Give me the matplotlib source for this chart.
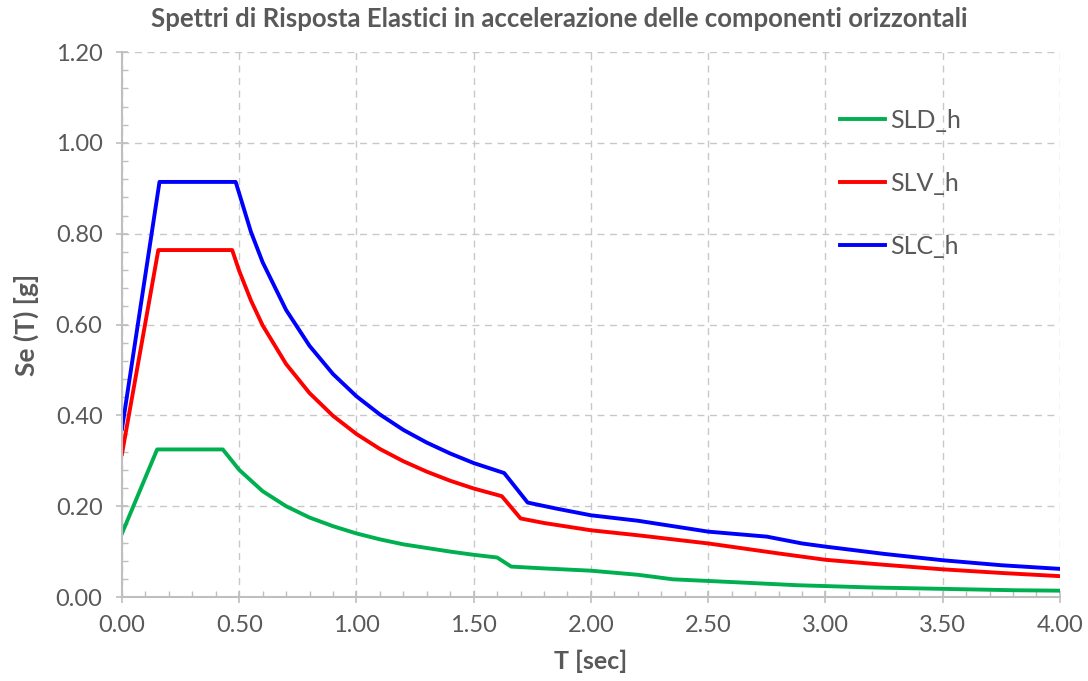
import matplotlib
matplotlib.use("Agg")
import matplotlib.pyplot as plt
from matplotlib.ticker import MultipleLocator, FormatStrFormatter

plt.rcParams['font.family'] = ['Lato', 'DejaVu Sans']

# Elastic response spectra, horizontal components (period T [s] -> Se [g])
t_sld = [0.0, 0.15, 0.43, 0.5, 0.6, 0.7, 0.8, 0.9, 1.0, 1.1, 1.2, 1.3, 1.4, 1.5,
         1.6, 1.66, 1.8, 2.0, 2.2, 2.35, 2.6, 2.88, 3.2, 3.5, 3.8, 4.0]
se_sld = [0.14, 0.325, 0.325, 0.28, 0.233, 0.2, 0.175, 0.156, 0.14, 0.127, 0.116,
          0.108, 0.1, 0.093, 0.087, 0.067, 0.063, 0.058, 0.049, 0.039, 0.033,
          0.026, 0.021, 0.018, 0.015, 0.014]

t_slv = [0.0, 0.155, 0.47, 0.5, 0.55, 0.6, 0.7, 0.8, 0.9, 1.0, 1.1, 1.2, 1.3, 1.4,
         1.5, 1.62, 1.7, 1.8, 2.0, 2.2, 2.5, 2.8, 3.0, 3.25, 3.5, 3.75, 4.0]
se_slv = [0.315, 0.764, 0.764, 0.718, 0.653, 0.598, 0.513, 0.449, 0.399, 0.359,
          0.326, 0.299, 0.276, 0.256, 0.239, 0.222, 0.173, 0.163, 0.147, 0.136,
          0.118, 0.096, 0.082, 0.071, 0.061, 0.053, 0.046]

t_slc = [0.0, 0.16, 0.485, 0.55, 0.6, 0.7, 0.8, 0.9, 1.0, 1.1, 1.2, 1.3, 1.4, 1.5,
         1.63, 1.73, 1.85, 2.0, 2.2, 2.5, 2.75, 2.9, 3.0, 3.25, 3.5, 3.75, 4.0]
se_slc = [0.37, 0.914, 0.914, 0.804, 0.737, 0.632, 0.553, 0.491, 0.442, 0.402,
          0.368, 0.34, 0.316, 0.295, 0.273, 0.208, 0.195, 0.18, 0.168, 0.144,
          0.133, 0.118, 0.111, 0.095, 0.081, 0.07, 0.062]

series = [
    ("SLD_h", t_sld, se_sld, "#00B050"),
    ("SLV_h", t_slv, se_slv, "#FF0000"),
    ("SLC_h", t_slc, se_slc, "#0000FF"),
]

fig = plt.figure(figsize=(10.88, 6.81), dpi=100)
ax = fig.add_axes([0.1121, 0.1233, 0.8621, 0.8003])

for name, t, se, col in series:
    ax.plot(t, se, color=col, lw=2.8, label=name, solid_joinstyle='round')

ax.set_xlim(0, 4.0)
ax.set_ylim(0, 1.2)
ax.xaxis.set_major_locator(MultipleLocator(0.5))
ax.xaxis.set_minor_locator(MultipleLocator(0.1))
ax.yaxis.set_major_locator(MultipleLocator(0.2))
ax.yaxis.set_minor_locator(MultipleLocator(0.04))
ax.xaxis.set_major_formatter(FormatStrFormatter('%.2f'))
ax.yaxis.set_major_formatter(FormatStrFormatter('%.2f'))

grid_col = "#C8C8C8"
ax.grid(True, which='major', color=grid_col, ls=(0, (5, 4)), lw=1.0)
ax.set_axisbelow(True)

for s in ['top', 'right']:
    ax.spines[s].set_visible(False)
for s in ['left', 'bottom']:
    ax.spines[s].set_color("#BFBFBF")
    ax.spines[s].set_linewidth(1.5)

text_col = "#595959"
ax.tick_params(which='major', direction='inout', length=8, color="#BFBFBF",
               width=1.2, labelsize=17, labelcolor=text_col)
ax.tick_params(axis='y', which='major', pad=10)
ax.tick_params(axis='x', which='major', pad=9)
ax.tick_params(which='minor', direction='in', length=4, color="#BFBFBF", width=1.0)

ax.set_xlabel("T [sec]", fontsize=18, fontweight='bold', color=text_col, labelpad=10)
ax.set_ylabel("Se (T) [g]", fontsize=19, fontweight='bold', color=text_col, labelpad=12)

fig.text(0.514, 0.972, "Spettri di Risposta Elastici in accelerazione delle componenti orizzontali",
         ha='center', va='center', fontsize=18.5, fontweight='bold', color=text_col)

leg = ax.legend(loc='upper left', bbox_to_anchor=(0.742, 0.937), frameon=False,
                fontsize=18, labelspacing=1.6, handlelength=1.8, handletextpad=0.2)
for txt in leg.get_texts():
    txt.set_color(text_col)

fig.savefig("out.png", dpi=100)
